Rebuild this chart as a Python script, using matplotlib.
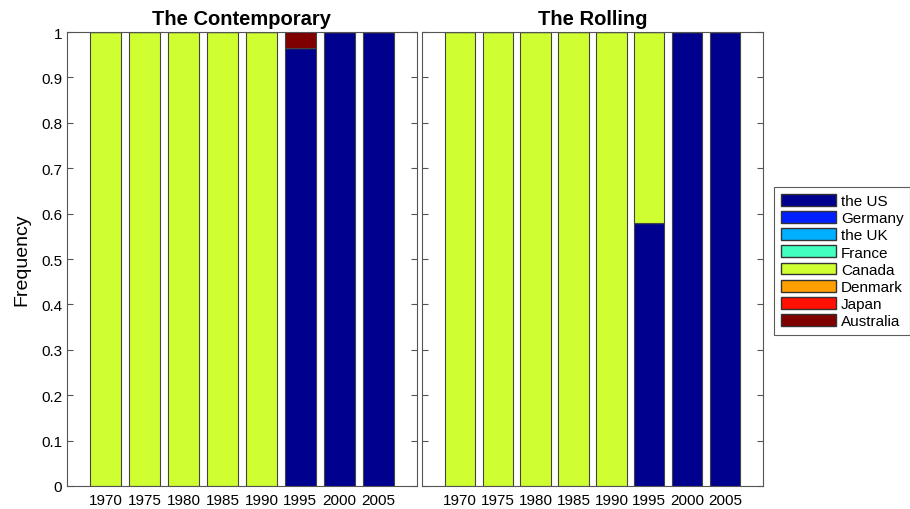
import numpy as np
import matplotlib
matplotlib.use('Agg')
import matplotlib.pyplot as plt
from matplotlib.patches import Patch

plt.rcParams['font.family'] = ['Liberation Sans', 'DejaVu Sans']

annees = ['1970', '1975', '1980', '1985', '1990', '1995', '2000', '2005']
pays = ['the US', 'Germany', 'the UK', 'France', 'Canada', 'Denmark', 'Japan', 'Australia']
couleurs = ['#00008F', '#0020FF', '#00AFFF', '#40FFBF', '#CFFF30', '#FFA000', '#FF1000', '#800000']

# part de chaque pays par année (ordre des pays ci-dessus)
contemporary = {
    'the US':    [0, 0, 0, 0, 0, 0.965, 1, 1],
    'Canada':    [1, 1, 1, 1, 1, 0, 0, 0],
    'Australia': [0, 0, 0, 0, 0, 0.035, 0, 0],
}
rolling = {
    'the US': [0, 0, 0, 0, 0, 0.58, 1, 1],
    'Canada': [1, 1, 1, 1, 1, 0.42, 0, 0],
}

fig = plt.figure(figsize=(9.1, 5.1), dpi=100)
ax1 = fig.add_axes([0.0736, 0.0451, 0.3846, 0.890])
ax2 = fig.add_axes([0.4637, 0.0451, 0.3747, 0.890])

x = np.arange(1, len(annees) + 1)

def empiler(ax, donnees, titre):
    bas = np.zeros(len(annees))
    for p, c in zip(pays, couleurs):
        vals = np.array(donnees.get(p, [0] * len(annees)), dtype=float)
        ax.bar(x, vals, 0.8, bottom=bas, color=c, edgecolor='#444444', linewidth=0.8)
        bas += vals
    ax.set_xlim(0, 9)
    ax.set_ylim(0, 1)
    ax.set_xticks(x)
    ax.set_xticklabels(annees, fontsize=11)
    ax.set_yticks(np.arange(0, 1.01, 0.1))
    ax.tick_params(axis='y', direction='in', length=4, right=True, color='#555555')
    ax.tick_params(axis='x', length=0, pad=5)
    ax.set_title(titre, fontsize=14.5, fontweight='bold', pad=6)
    for s in ax.spines.values():
        s.set_color('#555555')

empiler(ax1, contemporary, 'The Contemporary')
empiler(ax2, rolling, 'The Rolling')

ax1.set_yticklabels(['0', '0.1', '0.2', '0.3', '0.4', '0.5', '0.6', '0.7', '0.8', '0.9', '1'], fontsize=11)
ax2.set_yticklabels([])
ax1.set_ylabel('Frequency', fontsize=14, labelpad=8)

poignees = [Patch(facecolor=c, edgecolor='#333333', label=p) for p, c in zip(pays, couleurs)]
leg = fig.legend(handles=poignees, loc='center left', bbox_to_anchor=(0.851, 0.486),
                 fontsize=11, frameon=True, fancybox=False, borderpad=0.45,
                 handlelength=3.6, handleheight=0.8, labelspacing=0.2, handletextpad=0.3,
                 borderaxespad=0)
leg.get_frame().set_edgecolor('#333333')
leg.get_frame().set_linewidth(0.8)

plt.savefig('out.png', dpi=100)
